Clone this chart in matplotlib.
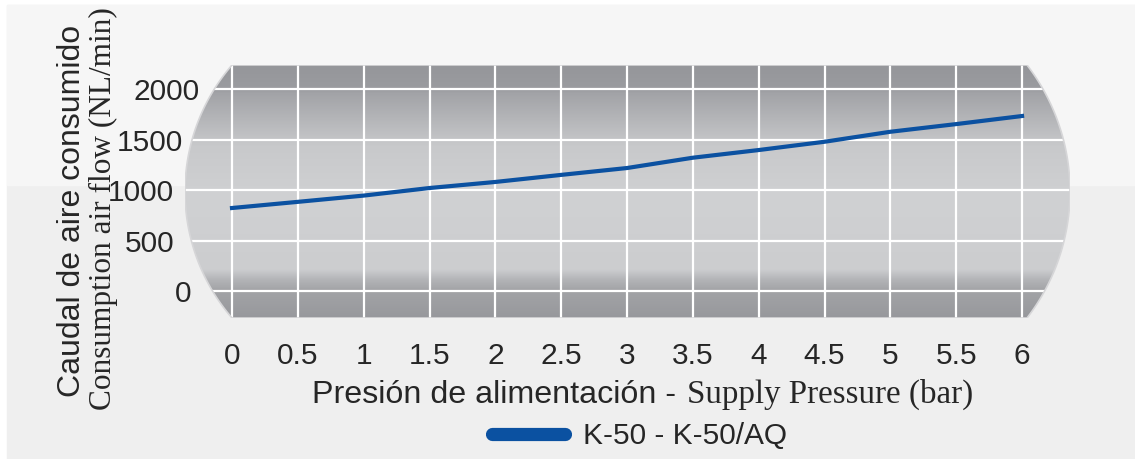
import numpy as np
import matplotlib.pyplot as plt
from matplotlib.colors import LinearSegmentedColormap
from matplotlib.patches import PathPatch, Rectangle
from matplotlib.path import Path

# values
pressure = [0, 0.5, 1, 1.5, 2, 2.5, 3, 3.5, 4, 4.5, 5, 5.5, 6]
flow = [822, 883, 945, 1020, 1080, 1150, 1218, 1320, 1396, 1478, 1577, 1653, 1733]
x_ticks = [0, 0.5, 1, 1.5, 2, 2.5, 3, 3.5, 4, 4.5, 5, 5.5, 6]
x_tick_labels = ['0', '0.5', '1', '1.5', '2', '2.5', '3', '3.5', '4', '4.5', '5', '5.5', '6']
y_ticks = [0, 500, 1000, 1500, 2000]
y_tick_labels = ['0', '500', '1000', '1500', '2000']
series_label = 'K-50 - K-50/AQ'

plt.rcParams['font.family'] = ['Liberation Sans', 'DejaVu Sans']
TXT = '#262626'
W, H = 1135, 459

fig = plt.figure(figsize=(W / 100, H / 100), dpi=100)
fig.patch.set_facecolor('white')
fig.patches.append(Rectangle((7 / W, 0), 1 - 7 / W, 1 - 5 / H, transform=fig.transFigure,
                             color='#efefef', zorder=-10))
fig.patches.append(Rectangle((7 / W, 1 - 185 / H), 1 - 7 / W, 180 / H, transform=fig.transFigure,
                             color='#f6f6f6', zorder=-9))

# plot panel (pixel box 185..1070 x 65..318)
ax = fig.add_axes([185 / W, (H - 318) / H, 885 / W, 253 / H])
ax.set_facecolor('none')

# barrel shaped background: rectangle with circular arcs on both sides
ys = np.linspace(65, 318, 80)
r1, cy = 193.7, 191.5
left_x = 185 + r1 - np.sqrt(r1 ** 2 - (ys - cy) ** 2)
r2 = 207.6
right_x = 1070 - r2 + np.sqrt(r2 ** 2 - (ys - cy) ** 2)
px = np.concatenate([left_x, right_x[::-1], left_x[:1]])
py = np.concatenate([ys, ys[::-1], ys[:1]])
verts = np.column_stack([(px - 185) / 885, (318 - py) / 253])
shape = PathPatch(Path(verts, closed=True), transform=ax.transAxes,
                  facecolor='none', edgecolor='#d6d6d8', lw=1.2, zorder=4)
ax.add_patch(shape)

stops = [(0.0, '#97989c'), (0.11, '#a3a4a7'), (0.15, '#b3b4b7'), (0.19, '#cccdcf'),
         (0.47, '#d0d1d3'), (0.68, '#c8c9cb'), (0.89, '#a2a3a7'), (0.905, '#9b9ca0'),
         (1.0, '#95969a')]
cmap = LinearSegmentedColormap.from_list('panel', stops)
grad = np.linspace(0, 1, 256).reshape(-1, 1)
im = ax.imshow(grad, extent=[0, 1, 0, 1], transform=ax.transAxes, origin='lower',
               aspect='auto', cmap=cmap, zorder=0)
im.set_clip_path(shape)

xlim = (-0.357, 6.364)
ylim = (-267, 2238)
ax.set_xlim(*xlim)
ax.set_ylim(*ylim)

vl = ax.vlines(x_ticks, ylim[0], ylim[1], colors='white', lw=1.6, zorder=1)
vl.set_clip_path(shape)
hl = ax.hlines(y_ticks, xlim[0], xlim[1], colors='white', lw=1.6, zorder=1)
hl.set_clip_path(shape)

line, = ax.plot(pressure, flow, color='#0b51a1', lw=3, zorder=3, label=series_label)

for s in ax.spines.values():
    s.set_visible(False)
ax.tick_params(length=0, labelsize=21.5, labelcolor=TXT)
ax.set_xticks(x_ticks, x_tick_labels)
ax.set_yticks(y_ticks, y_tick_labels)
ax.tick_params(axis='x', pad=17)
for tick, pad in zip(ax.yaxis.get_major_ticks(), [-4.3, 7.9, 7.9, 1.4, -10.8]):
    tick.set_pad(pad)

# axis titles (mixed sans / serif as in the original)
fig.text(80 / W, 1 - 211 / H, 'Caudal de aire consumido', rotation=90, rotation_mode='anchor',
         ha='center', va='baseline', fontsize=23, color=TXT)
fig.text(111 / W, 1 - 209 / H, 'Consumption air flow (NL/min)', rotation=90,
         rotation_mode='anchor', ha='center', va='baseline', fontsize=22.5,
         family='Liberation Serif', color=TXT)
fig.text(676 / W, 1 - 403 / H, 'Presión de alimentación -', ha='right', va='baseline',
         fontsize=23.2, color=TXT)
fig.text(687 / W, 1 - 403 / H, 'Supply Pressure (bar)', ha='left', va='baseline',
         fontsize=23.8, family='Liberation Serif', color=TXT)

leg = fig.legend(handles=[line], labels=[series_label], loc='center left',
                 bbox_to_anchor=(491.5 / W, 1 - 436 / H), frameon=False,
                 prop={'family': 'Liberation Sans', 'size': 21.5}, labelcolor=TXT,
                 handlelength=2.47, handletextpad=0.585, borderpad=0, borderaxespad=0)
leg_line = leg.get_lines()[0]
leg_line.set_linewidth(9.5)
leg_line.set_solid_capstyle('round')

fig.savefig('out.png', dpi=100)
